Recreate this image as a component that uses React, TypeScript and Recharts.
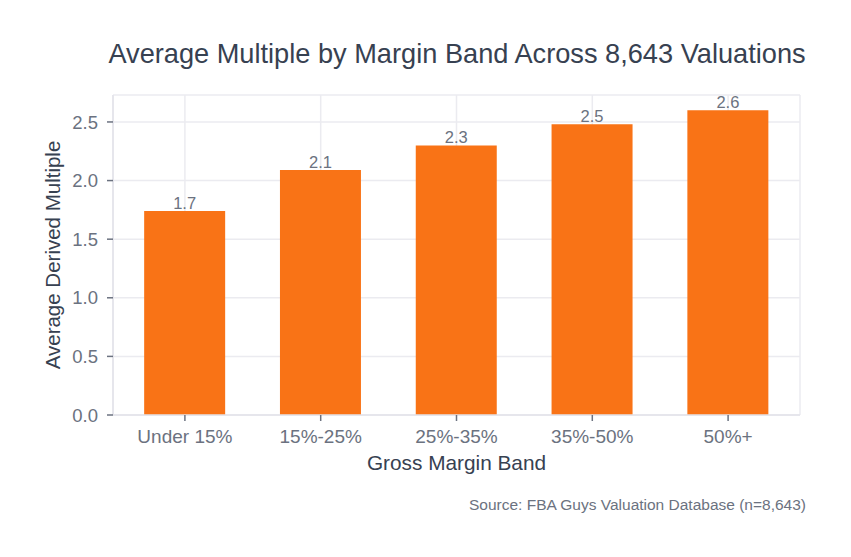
import React from 'react';
import { BarChart, Bar, XAxis, YAxis, CartesianGrid, LabelList, Label } from 'recharts';

const categories = ['Under 15%', '15%-25%', '25%-35%', '35%-50%', '50%+'];
const multiples = [1.74, 2.09, 2.3, 2.48, 2.6];
const yTicks = [0, 0.5, 1, 1.5, 2, 2.5];

const data = categories.map((band, i) => ({ band, multiple: multiples[i] }));

const FONT = '"Liberation Sans", Arial, Helvetica, sans-serif';
const TICK_COLOR = '#6b7280';
const TITLE_COLOR = '#374151';

export default function App() {
  return (
    <div style={{ position: 'absolute', left: 0, top: 0, width: 851, height: 557, background: '#ffffff', fontFamily: FONT }}>
      <BarChart
        width={851}
        height={557}
        data={data}
        margin={{ top: 95, right: 51, bottom: 112, left: 0 }}
        barCategoryGap="20%"
        style={{ fontFamily: FONT }}
      >
        <CartesianGrid stroke="#ebebf0" strokeWidth={1.5} vertical={true} horizontal={true} />
        <XAxis
          dataKey="band"
          height={30}
          padding={{ left: 4, right: 4 }}
          tickSize={6}
          tickMargin={9}
          tick={{ fill: TICK_COLOR, fontSize: 19, fontFamily: FONT }}
          axisLine={{ stroke: '#e3e3ea', strokeWidth: 1.5 }}
          tickLine={{ stroke: '#6b7280', strokeWidth: 1.5 }}
        >
          <Label
            value="Gross Margin Band"
            position="bottom"
            offset={10}
            style={{ fill: TITLE_COLOR, fontSize: 20.8, fontFamily: FONT }}
          />
        </XAxis>
        <YAxis
          width={113}
          domain={[0, 2.73]}
          ticks={yTicks}
          tickFormatter={(v: number) => v.toFixed(1)}
          tickSize={6}
          tickMargin={9}
          tick={{ fill: TICK_COLOR, fontSize: 18.5, fontFamily: FONT }}
          axisLine={{ stroke: '#e3e3ea', strokeWidth: 1.5 }}
          tickLine={{ stroke: '#6b7280', strokeWidth: 1.5 }}
          allowDataOverflow
        >
          <Label
            value="Average Derived Multiple"
            angle={-90}
            position="insideLeft"
            offset={53}
            style={{ fill: TITLE_COLOR, fontSize: 20.5, fontFamily: FONT, textAnchor: 'middle' }}
          />
        </YAxis>
        <Bar dataKey="multiple" fill="#f97316" isAnimationActive={false}>
          <LabelList
            dataKey="multiple"
            position="top"
            offset={2}
            formatter={(v: number) => Number(v).toFixed(1)}
            style={{ fill: TICK_COLOR, fontSize: 16.5, fontFamily: FONT }}
          />
        </Bar>
      </BarChart>
      <svg width={851} height={557} style={{ position: 'absolute', left: 0, top: 0, pointerEvents: 'none' }}>
        <text x={457} y={63} textAnchor="middle" fill={TITLE_COLOR} fontSize={27.2} fontFamily={FONT}>
          Average Multiple by Margin Band Across 8,643 Valuations
        </text>
        <text x={806} y={510} textAnchor="end" fill={TICK_COLOR} fontSize={15.5} fontFamily={FONT}>
          Source: FBA Guys Valuation Database (n=8,643)
        </text>
      </svg>
    </div>
  );
}
